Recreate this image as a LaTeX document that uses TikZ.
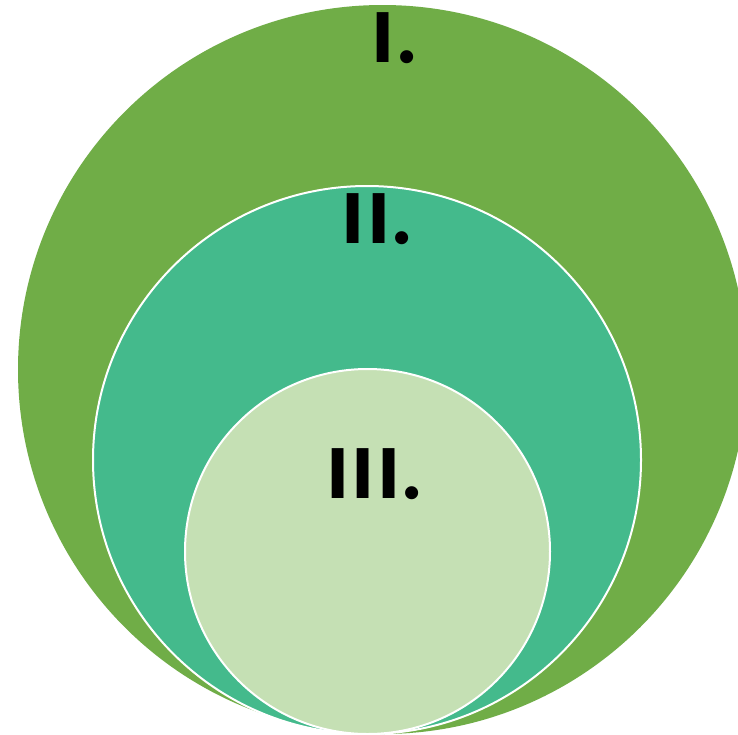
\documentclass[tikz,border=0pt]{standalone}
\usepackage{fontspec}
\newfontfamily\labfont{Fira Sans}[LetterSpace=6]
\definecolor{outerg}{HTML}{70AD47}
\definecolor{midg}{HTML}{44BA8C}
\definecolor{inng}{HTML}{C5E0B4}
\begin{document}
\begin{tikzpicture}[x=1pt,y=-1pt,
  ring/.style={circle,inner sep=0pt,draw=white,line width=2pt},
  lab/.style={font=\labfont\bfseries\fontsize{72}{72}\selectfont,inner sep=0pt,text=black}]
\useasboundingbox (0,0) rectangle (738,734);
\clip (0,0) rectangle (738,734);
\fill[white] (0,0) rectangle (738,734);
\node[ring,fill=outerg,draw=none,minimum size=729pt] (c1) at (382.5,369.5) {};
\node[ring,fill=midg,minimum size=548pt] (c2) at (367,460) {};
\node[ring,fill=inng,minimum size=365pt] (c3) at (367.5,551.5) {};
\node[lab] (l1) at (394,38) {I.};
\node[lab] (l2) at (377,219) {II.};
\node[lab] (l3) at (374,474) {III.};
\end{tikzpicture}
\end{document}
